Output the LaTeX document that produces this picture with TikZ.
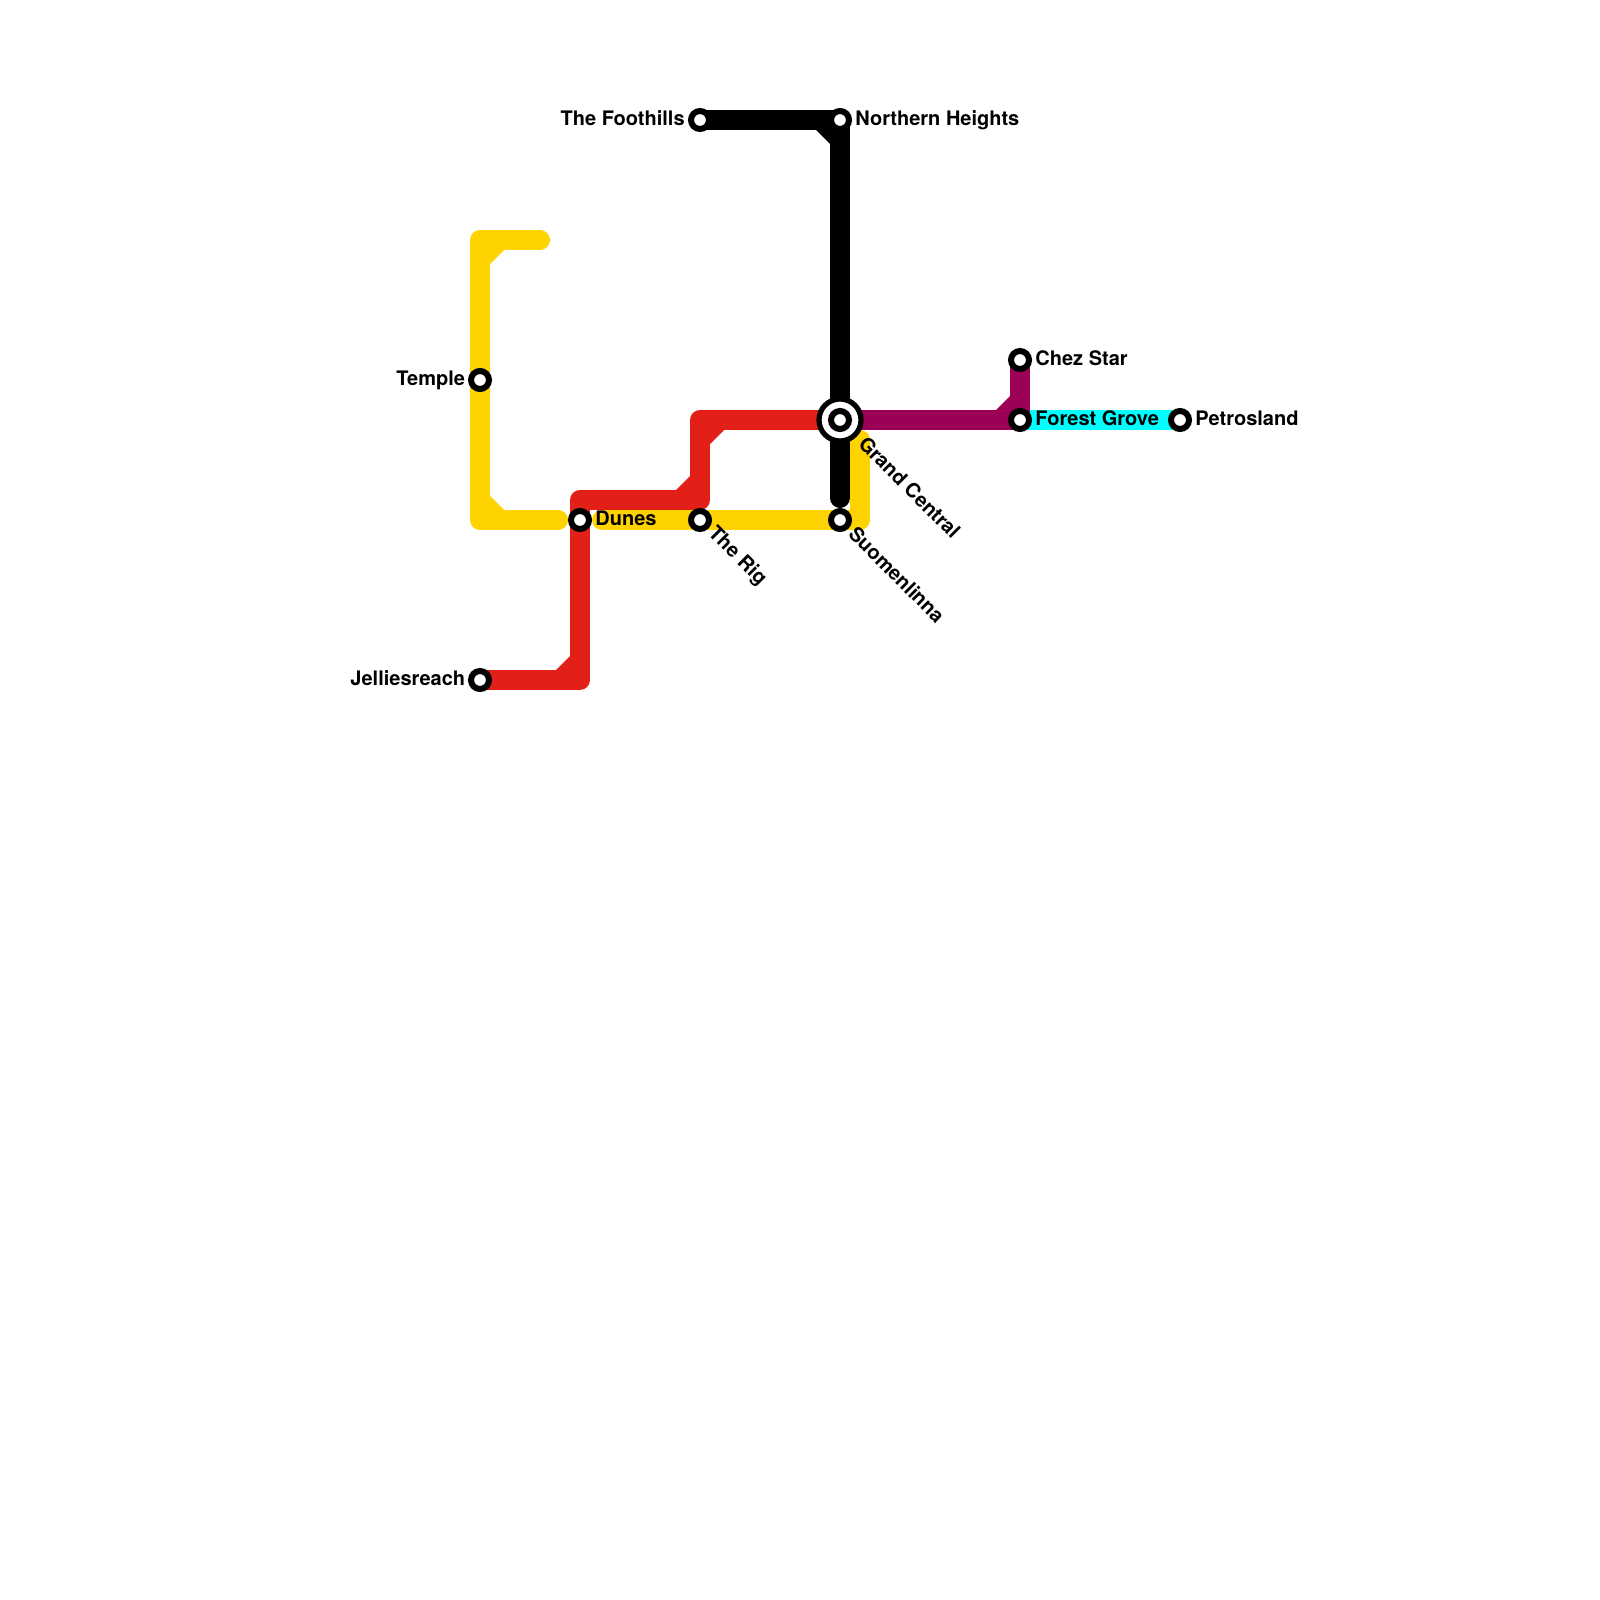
\documentclass[tikz,border=0pt]{standalone}
\usepackage{fontspec}
\setmainfont{TeX Gyre Heros}
\definecolor{lyellow}{HTML}{FFD300}
\definecolor{lred}{HTML}{E32017}
\definecolor{lpurple}{HTML}{9B0056}
\definecolor{lcyan}{HTML}{00FFFF}
\newcommand{\chamfer}[4]{\fill[#1] ([shift={(#3*10,#4*10)}]#2) -- ++(#3*14,0) -- ++(-#3*14,#4*14) -- cycle;}
\tikzset{
  metro/.style={line width=10pt,line join=round,line cap=round},
  stn/.style={circle,draw=black,fill=white,line width=3pt,minimum size=9pt,inner sep=0pt},
  lbl/.style={font=\bfseries\fontsize{10pt}{12pt}\selectfont,inner sep=0pt,text=black},
  lblL/.style={lbl,anchor=base east},
  lblR/.style={lbl,anchor=base west},
  lblD/.style={lbl,anchor=base west,rotate=-45},
}
\begin{document}
\begin{tikzpicture}[x=0.5pt,y=-0.5pt]
\useasboundingbox (0,0) rectangle (1600,1600);
\fill[white] (0,0) rectangle (1600,1600);
% stations and corners
\coordinate (foot) at (700,120);
\coordinate (north) at (840,120);
\coordinate (temple) at (480,380);
\coordinate (jell) at (480,680);
\coordinate (dunes) at (580,520);
\coordinate (rig) at (700,520);
\coordinate (suom) at (840,520);
\coordinate (grand) at (840,420);
\coordinate (chez) at (1020,360);
\coordinate (forest) at (1020,420);
\coordinate (petro) at (1180,420);
\coordinate (yTopEnd) at (540,240);
\coordinate (yTL) at (480,240);
\coordinate (yBL) at (480,520);
\coordinate (yMidEnd) at (558,520);
\coordinate (yMidStart) at (602,520);
\coordinate (yBR) at (860,520);
\coordinate (yTR) at (860,440);
\coordinate (yTop) at (845,440);
\coordinate (kEnd) at (840,498);
\coordinate (rBR) at (580,680);
\coordinate (rTL) at (580,500);
\coordinate (rMR) at (700,500);
\coordinate (rUL) at (700,420);
% cyan
\draw[line width=10pt,lcyan] (forest) -- (petro);
% yellow
\draw[metro,lyellow] (yTopEnd) -- (yTL) -- (temple) -- (yBL) -- (yMidEnd);
\draw[metro,lyellow] (yMidStart) -- (rig) -- (suom) -- (yBR) -- (yTR) -- (yTop);
\chamfer{lyellow}{yTL}{1}{1}
\chamfer{lyellow}{yBL}{1}{-1}
% black
\draw[metro,black] (foot) -- (north) -- (grand) -- (kEnd);
\chamfer{black}{north}{-1}{1}
% red
\draw[metro,lred] (jell) -- (rBR) -- (rTL) -- (rMR) -- (rUL) -- (grand);
\chamfer{lred}{rBR}{-1}{-1}
\chamfer{lred}{rMR}{-1}{-1}
\chamfer{lred}{rUL}{1}{1}
% purple
\draw[metro,lpurple] (grand) -- (forest) -- (chez);
\chamfer{lpurple}{forest}{-1}{-1}
% interchange ring
\node[circle,draw=black,fill=white,line width=2.6pt,minimum size=21pt,inner sep=0pt] (grandring) at (grand) {};
% station nodes
\node[stn] (nfoot) at (foot) {};
\node[stn] (nnorth) at (north) {};
\node[stn] (ntemple) at (temple) {};
\node[stn] (njell) at (jell) {};
\node[stn] (ndunes) at (dunes) {};
\node[stn] (nrig) at (rig) {};
\node[stn] (nsuom) at (suom) {};
\node[stn] (ngrand) at (grand) {};
\node[stn] (nchez) at (chez) {};
\node[stn] (nforest) at (forest) {};
\node[stn] (npetro) at (petro) {};
% labels
\node[lblL] (tfoot) at (685,125.5) {The Foothills};
\node[lblR] (tnorth) at (855,125.5) {Northern Heights};
\node[lblL] (ttemple) at (465.5,385) {Temple};
\node[lblL] (tjell) at (465.5,685) {Jelliesreach};
\node[lblR] (tdunes) at (595,525) {Dunes};
\node[lblR] (tchez) at (1035,365) {Chez Star};
\node[lblR] (tforest) at (1035,425) {Forest Grove};
\node[lblR] (tpetro) at (1195,425) {Petrosland};
\node[lblD] (trig) at (707,534) {The Rig};
\node[lblD] (tsuom) at (847,535) {Suomenlinna};
\node[lblD] (tgrand) at (857,445) {Grand Central};
\end{tikzpicture}
\end{document}
